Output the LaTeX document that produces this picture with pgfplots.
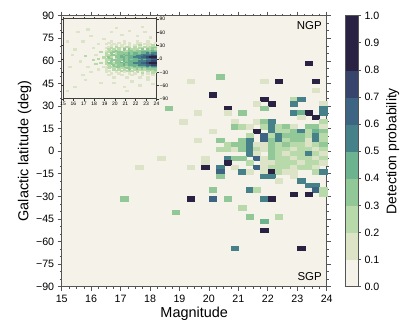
\documentclass[border=0pt]{standalone}
\usepackage{fontspec}
\setmainfont{Liberation Sans}
\setsansfont{Liberation Sans}
\usepackage{pgfplots}
\pgfplotsset{compat=1.18}

\definecolor{cb0}{RGB}{245,242,233}
\definecolor{axgray}{RGB}{85,85,85}

\pgfplotsset{
  detcmap/.style={
    colormap={cubehelixd}{rgb255=(245,242,233) rgb255=(220,227,198) rgb255=(184,217,169)
      rgb255=(146,200,152) rgb255=(109,179,143) rgb255=(85,155,140) rgb255=(70,129,137)
      rgb255=(61,100,131) rgb255=(55,69,109) rgb255=(42,34,67) rgb255=(42,34,67)},
    colormap access=piecewise constant,
  },
}

\begin{document}
\begin{tikzpicture}
\useasboundingbox (0,0) rectangle (407bp,333bp);
\begin{axis}[
  detcmap,
  scale only axis, width=265bp, height=271bp,
  at={(61.7bp,46.3bp)}, anchor=south west,
  xmin=15, xmax=24, ymin=-90, ymax=90,
  xtick={15,16,17,18,19,20,21,22,23,24},
  xticklabels={15,16,17,18,19,20,21,22,23,24},
  ytick={-90,-75,-60,-45,-30,-15,0,15,30,45,60,75,90},
  yticklabels={−90,−75,−60,−45,−30,−15,0,15,30,45,60,75,90},
  minor x tick num=3, minor y tick num=2,
  tick align=outside, xtick pos=both, ytick pos=both,
  major tick length=4bp, minor tick length=2bp,
  every tick/.style={axgray, line width=0.7bp},
  every minor tick/.append style={line width=0.5bp},
  axis line style={axgray, line width=0.8bp},
  axis background/.style={fill=cb0},
  tick label style={font=\fontsize{10.7}{12}\selectfont},
  xticklabel style={yshift=-0.5bp},
  label style={font=\fontsize{14.5}{16}\selectfont},
  xlabel={Magnitude}, ylabel={Galactic latitude (deg)},
  xlabel style={yshift=2bp},
  ylabel style={yshift=-2bp},
  point meta min=0, point meta max=1,
  colorbar sampled,
  colorbar style={
    at={(1.069,1)}, anchor=north west,
    width=13bp, samples=11,
    ytick={0,0.1,0.2,0.3,0.4,0.5,0.6,0.7,0.8,0.9,1.0},
    yticklabels={0.0,0.1,0.2,0.3,0.4,0.5,0.6,0.7,0.8,0.9,1.0},
    ytick pos=right, yticklabel pos=right,
    tick align=outside, major tick length=3bp,
    every tick/.style={axgray, line width=0.7bp},
    axis line style={axgray, line width=0.8bp},
    tick label style={font=\fontsize{10.7}{12}\selectfont},
    ylabel={Detection probability},
    ylabel style={font=\fontsize{14}{16}\selectfont},
  },
]
\addplot[scatter, only marks, mark=square*, mark size=3.68bp, point meta=explicit,
  scatter/use mapped color={draw=mapped color, fill=mapped color},
  mark options={yscale=0.6137, line width=0.2pt}] coordinates {
(23.375,58.5)[0.95]
(20.375,49.5)[0.35]
(19.375,46.5)[0.15] (21.875,46.5)[0.15] (22.375,46.5)[0.95] (23.625,46.5)[0.95]
(23.625,40.5)[0.15]
(20.125,37.5)[0.95]
(21.875,34.5)[0.95] (22.875,34.5)[0.25] (23.125,34.5)[0.55]
(21.625,31.5)[0.15] (22.125,31.5)[0.95] (22.875,31.5)[0.55] (23.875,31.5)[0.15]
(18.625,28.5)[0.35] (20.625,28.5)[0.95] (21.875,28.5)[0.35] (23.875,28.5)[0.55]
(19.625,25.5)[0.15] (20.625,25.5)[0.15] (21.125,25.5)[0.35] (22.875,25.5)[0.55] (23.125,25.5)[0.45] (23.375,25.5)[0.95] (23.875,25.5)[0.55]
(23.125,22.5)[0.15] (23.625,22.5)[0.95]
(19.125,19.5)[0.15] (20.875,19.5)[0.15] (21.625,19.5)[0.15] (21.875,19.5)[0.35] (22.125,19.5)[0.55] (23.875,19.5)[0.25]
(20.875,16.5)[0.35] (21.125,16.5)[0.25] (21.375,16.5)[0.15] (21.875,16.5)[0.25] (22.125,16.5)[0.55] (22.375,16.5)[0.25] (22.625,16.5)[0.35] (22.875,16.5)[0.15] (23.375,16.5)[0.35] (23.625,16.5)[0.35] (23.875,16.5)[0.15]
(20.125,13.5)[0.15] (21.625,13.5)[0.95] (22.125,13.5)[0.55] (22.375,13.5)[0.25] (22.625,13.5)[0.25] (22.875,13.5)[0.35] (23.125,13.5)[0.55] (23.375,13.5)[0.25] (23.625,13.5)[0.45] (23.875,13.5)[0.35]
(21.375,10.5)[0.25] (21.875,10.5)[0.65] (22.125,10.5)[0.25] (22.375,10.5)[0.55] (22.625,10.5)[0.35] (22.875,10.5)[0.35] (23.125,10.5)[0.35] (23.375,10.5)[0.25] (23.625,10.5)[0.55] (23.875,10.5)[0.25]
(19.625,7.5)[0.15] (20.375,7.5)[0.35] (21.125,7.5)[0.35] (21.375,7.5)[0.55] (21.875,7.5)[0.65] (22.125,7.5)[0.35] (22.375,7.5)[0.55] (22.625,7.5)[0.25] (22.875,7.5)[0.35] (23.125,7.5)[0.35] (23.375,7.5)[0.15] (23.625,7.5)[0.55] (23.875,7.5)[0.25]
(20.625,4.5)[0.25] (20.875,4.5)[0.35] (21.125,4.5)[0.35] (21.375,4.5)[0.55] (21.625,4.5)[0.15] (21.875,4.5)[0.15] (22.125,4.5)[0.35] (22.375,4.5)[0.25] (22.625,4.5)[0.35] (22.875,4.5)[0.25] (23.125,4.5)[0.25] (23.375,4.5)[0.15] (23.625,4.5)[0.25] (23.875,4.5)[0.35]
(20.375,1.5)[0.25] (20.625,1.5)[0.25] (20.875,1.5)[0.15] (21.125,1.5)[0.35] (21.375,1.5)[0.55] (21.625,1.5)[0.25] (21.875,1.5)[0.15] (22.125,1.5)[0.35] (22.375,1.5)[0.25] (22.625,1.5)[0.25] (22.875,1.5)[0.15] (23.125,1.5)[0.25] (23.375,1.5)[0.25] (23.625,1.5)[0.15] (23.875,1.5)[0.25]
(21.375,-1.5)[0.55] (21.625,-1.5)[0.15] (22.125,-1.5)[0.35] (22.375,-1.5)[0.25] (22.625,-1.5)[0.15] (22.875,-1.5)[0.25] (23.125,-1.5)[0.25] (23.375,-1.5)[0.55] (23.625,-1.5)[0.25] (23.875,-1.5)[0.15]
(18.375,-4.5)[0.15] (19.875,-4.5)[0.15] (20.625,-4.5)[0.55] (20.875,-4.5)[0.35] (21.125,-4.5)[0.35] (21.625,-4.5)[0.65] (21.875,-4.5)[0.15] (22.125,-4.5)[0.35] (22.375,-4.5)[0.25] (22.625,-4.5)[0.25] (22.875,-4.5)[0.15] (23.125,-4.5)[0.25] (23.375,-4.5)[0.25] (23.625,-4.5)[0.15] (23.875,-4.5)[0.25]
(19.875,-7.5)[0.15] (20.625,-7.5)[0.95] (21.375,-7.5)[0.25] (21.875,-7.5)[0.15] (22.125,-7.5)[0.15] (22.375,-7.5)[0.25] (22.625,-7.5)[0.25] (22.875,-7.5)[0.25] (23.125,-7.5)[0.15] (23.375,-7.5)[0.25] (23.625,-7.5)[0.25] (23.875,-7.5)[0.15]
(17.625,-10.5)[0.15] (19.375,-10.5)[0.15] (19.875,-10.5)[0.95] (20.375,-10.5)[0.55] (20.875,-10.5)[0.15] (21.625,-10.5)[0.65] (21.875,-10.5)[0.15] (22.125,-10.5)[0.25] (22.375,-10.5)[0.25] (22.625,-10.5)[0.25] (22.875,-10.5)[0.15] (23.125,-10.5)[0.25] (23.375,-10.5)[0.25] (23.625,-10.5)[0.15]
(20.375,-13.5)[0.65] (21.125,-13.5)[0.55] (21.375,-13.5)[0.15] (21.875,-13.5)[0.15] (22.125,-13.5)[0.95] (22.375,-13.5)[0.25] (22.625,-13.5)[0.15] (22.875,-13.5)[0.15] (23.625,-13.5)[0.25] (23.875,-13.5)[0.55]
(20.375,-16.5)[0.35] (21.875,-16.5)[0.55] (22.125,-16.5)[0.55] (22.875,-16.5)[0.15]
(22.375,-19.5)[0.15] (23.125,-19.5)[0.55]
(23.375,-22.5)[0.55] (23.625,-22.5)[0.55]
(20.125,-25.5)[0.35] (21.375,-25.5)[0.55] (21.625,-25.5)[0.25] (23.625,-25.5)[0.65] (23.875,-25.5)[0.25]
(22.875,-28.5)[0.95] (23.375,-28.5)[0.95] (23.875,-28.5)[0.25]
(17.125,-31.5)[0.35] (19.375,-31.5)[0.95] (20.125,-31.5)[0.65] (20.625,-31.5)[0.35] (21.875,-31.5)[0.55] (22.125,-31.5)[0.95]
(21.125,-37.5)[0.25]
(18.875,-40.5)[0.35]
(21.375,-43.5)[0.35] (22.375,-43.5)[0.25]
(21.875,-46.5)[0.45]
(21.875,-52.5)[0.95]
(20.875,-64.5)[0.55] (23.125,-64.5)[0.95]
};
\node[anchor=north east, inner sep=0pt, font=\fontsize{11.5}{13}\selectfont] at (axis description cs:0.982,0.981) {NGP};
\node[anchor=south east, inner sep=0pt, font=\fontsize{11.5}{13}\selectfont] at (axis description cs:0.982,0.021) {SGP};
\end{axis}

% inset: all sources
\begin{axis}[
  detcmap,
  scale only axis, width=93.5bp, height=80bp,
  at={(63bp,234bp)}, anchor=south west,
  xmin=15, xmax=24, ymin=-90, ymax=90,
  xtick={15,16,17,18,19,20,21,22,23,24},
  xticklabels={15,16,17,18,19,20,21,22,23,24},
  ytick={-90,-60,-30,0,30,60,90},
  yticklabels={−90,−60,−30,0,30,60,90},
  yticklabel pos=right,
  tick align=outside, xtick pos=both, ytick pos=both,
  major tick length=2bp,
  every tick/.style={black!80, line width=0.5bp},
  axis line style={black!75, line width=1bp},
  axis background/.style={fill=cb0},
  tick label style={font=\fontsize{5}{6}\selectfont, inner sep=1pt},
  point meta min=0, point meta max=1,
]
\addplot[scatter, only marks, mark=square*, mark size=1.3bp, point meta=explicit,
  scatter/use mapped color={draw=mapped color, fill=mapped color},
  mark options={yscale=0.513, line width=0.1pt}] coordinates {
(15.375,40.5)[0.15] (15.625,-16.5)[0.15] (15.375,-70.5)[0.15] (16.125,22.5)[0.15] (16.375,61.5)[0.15]
(16.625,-4.5)[0.15] (16.875,40.5)[0.15] (17.125,7.5)[0.25] (17.375,-16.5)[0.15] (17.125,-46.5)[0.15]
(17.625,52.5)[0.15] (17.875,25.5)[0.15] (17.875,-1.5)[0.25] (17.625,-28.5)[0.15] (18.125,10.5)[0.15]
(18.125,-10.5)[0.25] (18.375,34.5)[0.15] (18.375,1.5)[0.25] (18.375,-22.5)[0.15] (18.625,16.5)[0.25]
(18.625,-7.5)[0.25] (18.875,4.5)[0.25] (18.875,-16.5)[0.15] (18.875,46.5)[0.15] (18.625,-52.5)[0.15]
(16.125,-61.5)[0.15] (17.375,67.5)[0.15] (19.625,61.5)[0.15] (20.125,70.5)[0.15] (20.625,55.5)[0.15]
(21.375,64.5)[0.15] (22.125,52.5)[0.15] (22.875,61.5)[0.15] (23.375,49.5)[0.15] (19.875,-52.5)[0.15]
(20.875,-61.5)[0.15] (21.625,-49.5)[0.15] (22.375,-58.5)[0.15] (23.125,-46.5)[0.15] (23.625,-55.5)[0.15]
(21.125,-70.5)[0.15] (22.625,73.5)[0.15] (16.875,-34.5)[0.15] (15.875,10.5)[0.15]
(19.625,40.5)[0.15] (20.875,40.5)[0.15] (22.125,40.5)[0.15] (23.125,40.5)[0.15]
(19.375,37.5)[0.15] (20.375,37.5)[0.15] (21.375,37.5)[0.15] (22.375,37.5)[0.15] (23.125,37.5)[0.15] (23.875,37.5)[0.15]
(19.125,34.5)[0.15] (19.875,34.5)[0.15] (20.875,34.5)[0.15] (21.375,34.5)[0.15] (22.125,34.5)[0.15] (22.875,34.5)[0.15] (23.375,34.5)[0.15]
(19.625,31.5)[0.15] (20.125,31.5)[0.15] (20.625,31.5)[0.15] (21.375,31.5)[0.15] (21.875,31.5)[0.15] (22.375,31.5)[0.25] (23.125,31.5)[0.15] (23.625,31.5)[0.25]
(19.375,28.5)[0.15] (20.125,28.5)[0.25] (20.625,28.5)[0.15] (21.125,28.5)[0.25] (21.875,28.5)[0.25] (22.375,28.5)[0.15] (22.875,28.5)[0.25] (23.375,28.5)[0.25] (23.875,28.5)[0.25]
(19.125,25.5)[0.15] (19.625,25.5)[0.25] (20.375,25.5)[0.25] (20.875,25.5)[0.25] (21.375,25.5)[0.25] (21.875,25.5)[0.25] (22.375,25.5)[0.25] (22.625,25.5)[0.25] (23.125,25.5)[0.25] (23.625,25.5)[0.35] (23.875,25.5)[0.35]
(19.375,22.5)[0.25] (19.875,22.5)[0.25] (20.375,22.5)[0.25] (20.875,22.5)[0.35] (21.375,22.5)[0.35] (21.625,22.5)[0.25] (21.875,22.5)[0.25] (22.125,22.5)[0.25] (22.625,22.5)[0.35] (23.125,22.5)[0.35] (23.375,22.5)[0.25] (23.625,22.5)[0.35] (23.875,22.5)[0.25]
(19.125,19.5)[0.15] (19.625,19.5)[0.25] (20.125,19.5)[0.35] (20.375,19.5)[0.25] (20.875,19.5)[0.35] (21.125,19.5)[0.25] (21.375,19.5)[0.35] (21.625,19.5)[0.35] (21.875,19.5)[0.25] (22.125,19.5)[0.35] (22.375,19.5)[0.35] (22.875,19.5)[0.35] (23.125,19.5)[0.35] (23.375,19.5)[0.35] (23.625,19.5)[0.45] (23.875,19.5)[0.35]
(19.375,16.5)[0.25] (19.875,16.5)[0.35] (20.375,16.5)[0.35] (20.625,16.5)[0.35] (20.875,16.5)[0.25] (21.125,16.5)[0.25] (21.375,16.5)[0.35] (21.625,16.5)[0.35] (21.875,16.5)[0.35] (22.375,16.5)[0.35] (22.625,16.5)[0.45] (22.875,16.5)[0.45] (23.125,16.5)[0.45] (23.375,16.5)[0.35] (23.625,16.5)[0.45] (23.875,16.5)[0.45]
(19.125,13.5)[0.25] (19.625,13.5)[0.35] (20.125,13.5)[0.25] (20.375,13.5)[0.35] (20.625,13.5)[0.35] (20.875,13.5)[0.35] (21.125,13.5)[0.35] (21.375,13.5)[0.45] (21.625,13.5)[0.35] (21.875,13.5)[0.45] (22.125,13.5)[0.45] (22.375,13.5)[0.35] (22.625,13.5)[0.45] (22.875,13.5)[0.45] (23.125,13.5)[0.55] (23.375,13.5)[0.45] (23.625,13.5)[0.55] (23.875,13.5)[0.55]
(19.375,10.5)[0.25] (19.875,10.5)[0.35] (20.125,10.5)[0.25] (20.375,10.5)[0.35] (20.625,10.5)[0.35] (20.875,10.5)[0.45] (21.125,10.5)[0.35] (21.375,10.5)[0.45] (21.625,10.5)[0.35] (21.875,10.5)[0.45] (22.125,10.5)[0.45] (22.375,10.5)[0.45] (22.625,10.5)[0.55] (22.875,10.5)[0.55] (23.125,10.5)[0.55] (23.375,10.5)[0.55] (23.625,10.5)[0.65] (23.875,10.5)[0.55]
(19.125,7.5)[0.25] (19.625,7.5)[0.35] (20.125,7.5)[0.35] (20.375,7.5)[0.35] (20.625,7.5)[0.45] (20.875,7.5)[0.35] (21.125,7.5)[0.45] (21.375,7.5)[0.45] (21.625,7.5)[0.45] (21.875,7.5)[0.45] (22.125,7.5)[0.55] (22.375,7.5)[0.55] (22.625,7.5)[0.55] (22.875,7.5)[0.65] (23.125,7.5)[0.65] (23.375,7.5)[0.65] (23.625,7.5)[0.75] (23.875,7.5)[0.75]
(19.375,4.5)[0.35] (19.625,4.5)[0.25] (20.125,4.5)[0.35] (20.375,4.5)[0.35] (20.625,4.5)[0.45] (20.875,4.5)[0.45] (21.125,4.5)[0.35] (21.375,4.5)[0.45] (21.625,4.5)[0.45] (21.875,4.5)[0.55] (22.125,4.5)[0.55] (22.375,4.5)[0.55] (22.625,4.5)[0.65] (22.875,4.5)[0.65] (23.125,4.5)[0.75] (23.375,4.5)[0.85] (23.625,4.5)[0.95] (23.875,4.5)[0.95]
(19.125,1.5)[0.25] (19.625,1.5)[0.35] (20.125,1.5)[0.25] (20.375,1.5)[0.35] (20.625,1.5)[0.35] (20.875,1.5)[0.45] (21.125,1.5)[0.35] (21.375,1.5)[0.45] (21.625,1.5)[0.45] (21.875,1.5)[0.45] (22.125,1.5)[0.45] (22.375,1.5)[0.55] (22.625,1.5)[0.55] (22.875,1.5)[0.55] (23.125,1.5)[0.65] (23.375,1.5)[0.65] (23.625,1.5)[0.75] (23.875,1.5)[0.75]
(19.375,-1.5)[0.25] (19.875,-1.5)[0.35] (20.125,-1.5)[0.35] (20.625,-1.5)[0.35] (20.875,-1.5)[0.45] (21.125,-1.5)[0.35] (21.375,-1.5)[0.45] (21.625,-1.5)[0.35] (21.875,-1.5)[0.45] (22.125,-1.5)[0.45] (22.375,-1.5)[0.45] (22.625,-1.5)[0.55] (22.875,-1.5)[0.45] (23.125,-1.5)[0.55] (23.375,-1.5)[0.55] (23.625,-1.5)[0.65] (23.875,-1.5)[0.65]
(19.125,-4.5)[0.25] (19.625,-4.5)[0.35] (20.125,-4.5)[0.35] (20.375,-4.5)[0.35] (20.875,-4.5)[0.45] (21.125,-4.5)[0.35] (21.375,-4.5)[0.45] (21.625,-4.5)[0.45] (21.875,-4.5)[0.45] (22.125,-4.5)[0.45] (22.375,-4.5)[0.55] (22.625,-4.5)[0.55] (22.875,-4.5)[0.55] (23.125,-4.5)[0.65] (23.375,-4.5)[0.65] (23.625,-4.5)[0.75] (23.875,-4.5)[0.75]
(19.375,-7.5)[0.35] (19.875,-7.5)[0.25] (20.125,-7.5)[0.35] (20.375,-7.5)[0.35] (20.625,-7.5)[0.45] (20.875,-7.5)[0.35] (21.125,-7.5)[0.45] (21.375,-7.5)[0.45] (21.625,-7.5)[0.45] (21.875,-7.5)[0.55] (22.125,-7.5)[0.55] (22.375,-7.5)[0.55] (22.625,-7.5)[0.65] (22.875,-7.5)[0.65] (23.125,-7.5)[0.75] (23.375,-7.5)[0.85] (23.625,-7.5)[0.85] (23.875,-7.5)[0.95]
(19.125,-10.5)[0.25] (19.625,-10.5)[0.35] (20.125,-10.5)[0.35] (20.625,-10.5)[0.35] (20.875,-10.5)[0.45] (21.125,-10.5)[0.35] (21.375,-10.5)[0.45] (21.625,-10.5)[0.45] (21.875,-10.5)[0.55] (22.125,-10.5)[0.55] (22.375,-10.5)[0.55] (22.625,-10.5)[0.65] (22.875,-10.5)[0.65] (23.125,-10.5)[0.75] (23.375,-10.5)[0.85] (23.625,-10.5)[0.95] (23.875,-10.5)[0.95]
(19.375,-13.5)[0.25] (19.875,-13.5)[0.35] (20.125,-13.5)[0.25] (20.375,-13.5)[0.35] (20.625,-13.5)[0.35] (20.875,-13.5)[0.45] (21.125,-13.5)[0.35] (21.375,-13.5)[0.45] (21.625,-13.5)[0.45] (21.875,-13.5)[0.45] (22.125,-13.5)[0.45] (22.375,-13.5)[0.55] (22.625,-13.5)[0.55] (22.875,-13.5)[0.55] (23.125,-13.5)[0.65] (23.375,-13.5)[0.65] (23.625,-13.5)[0.75] (23.875,-13.5)[0.75]
(19.125,-16.5)[0.15] (19.625,-16.5)[0.25] (20.125,-16.5)[0.35] (20.625,-16.5)[0.35] (20.875,-16.5)[0.35] (21.125,-16.5)[0.25] (21.375,-16.5)[0.35] (21.625,-16.5)[0.35] (21.875,-16.5)[0.45] (22.125,-16.5)[0.35] (22.375,-16.5)[0.45] (22.625,-16.5)[0.45] (22.875,-16.5)[0.45] (23.125,-16.5)[0.55] (23.375,-16.5)[0.45] (23.625,-16.5)[0.55] (23.875,-16.5)[0.55]
(19.375,-19.5)[0.25] (19.875,-19.5)[0.25] (20.375,-19.5)[0.35] (20.625,-19.5)[0.25] (21.125,-19.5)[0.35] (21.375,-19.5)[0.35] (21.625,-19.5)[0.25] (21.875,-19.5)[0.35] (22.125,-19.5)[0.35] (22.375,-19.5)[0.35] (22.625,-19.5)[0.45] (22.875,-19.5)[0.35] (23.125,-19.5)[0.45] (23.375,-19.5)[0.35] (23.625,-19.5)[0.45] (23.875,-19.5)[0.45]
(19.125,-22.5)[0.15] (19.875,-22.5)[0.25] (20.375,-22.5)[0.25] (20.875,-22.5)[0.25] (21.375,-22.5)[0.35] (21.875,-22.5)[0.25] (22.125,-22.5)[0.35] (22.375,-22.5)[0.25] (22.625,-22.5)[0.35] (22.875,-22.5)[0.25] (23.125,-22.5)[0.35] (23.375,-22.5)[0.35] (23.625,-22.5)[0.35] (23.875,-22.5)[0.35]
(19.375,-25.5)[0.15] (20.125,-25.5)[0.25] (20.625,-25.5)[0.25] (21.125,-25.5)[0.25] (21.625,-25.5)[0.25] (22.125,-25.5)[0.25] (22.625,-25.5)[0.25] (23.125,-25.5)[0.25] (23.625,-25.5)[0.25] (23.875,-25.5)[0.35]
(19.125,-28.5)[0.15] (20.125,-28.5)[0.15] (20.875,-28.5)[0.15] (21.375,-28.5)[0.25] (22.125,-28.5)[0.25] (22.625,-28.5)[0.15] (23.125,-28.5)[0.25] (23.625,-28.5)[0.25] (23.875,-28.5)[0.25]
(19.625,-31.5)[0.15] (20.375,-31.5)[0.15] (21.375,-31.5)[0.15] (21.875,-31.5)[0.15] (22.625,-31.5)[0.25] (23.125,-31.5)[0.15] (23.625,-31.5)[0.25]
(19.375,-34.5)[0.15] (20.625,-34.5)[0.15] (21.625,-34.5)[0.15] (22.625,-34.5)[0.15] (23.625,-34.5)[0.15]
(19.875,-40.5)[0.15] (21.125,-40.5)[0.15] (22.375,-40.5)[0.15] (23.125,-40.5)[0.15]
};
\end{axis}
\end{tikzpicture}
\end{document}
